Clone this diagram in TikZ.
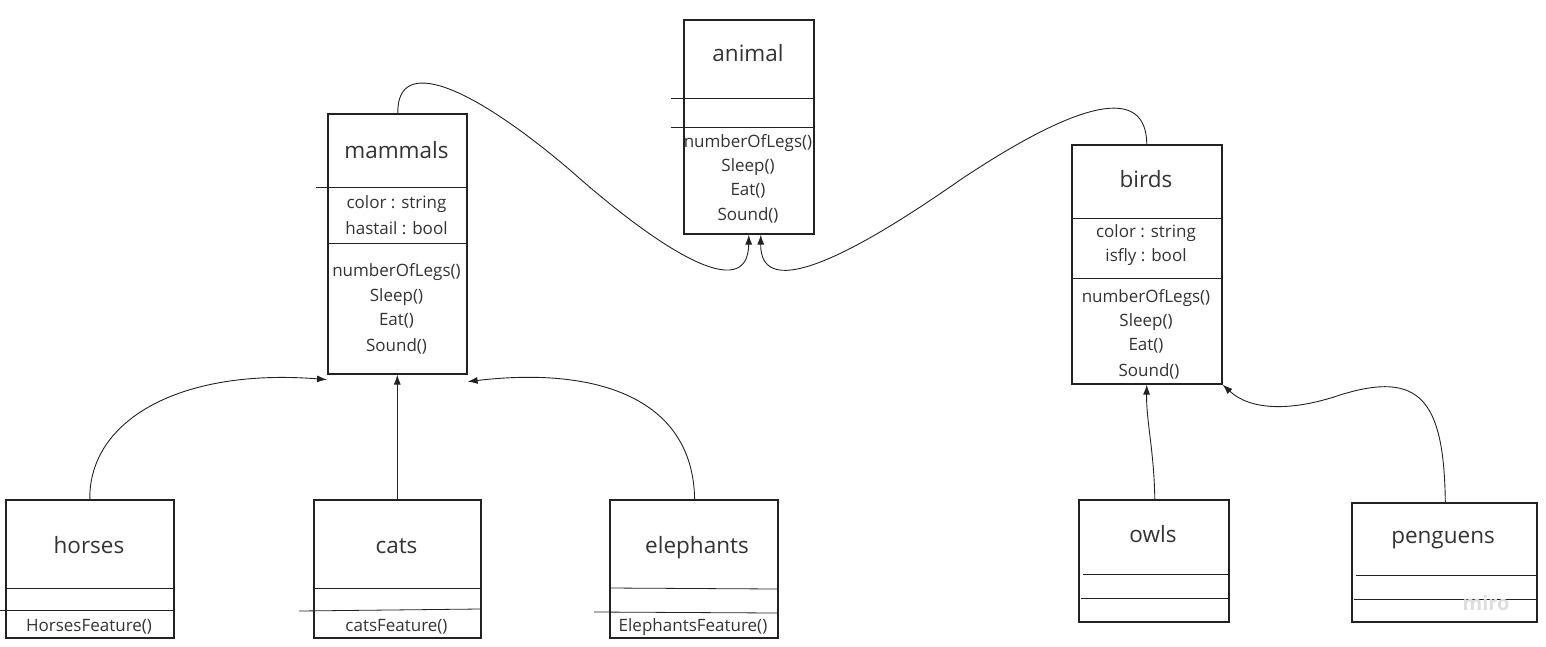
\documentclass[tikz,border=0pt]{standalone}
\usepackage{fontspec}
\setmainfont{Open Sans}
\usetikzlibrary{arrows.meta}
\definecolor{ink}{HTML}{222222}
\definecolor{txt}{HTML}{333333}
\definecolor{wm}{HTML}{DDDDDD}
\tikzset{
  cls/.style={draw=ink, line width=1.6pt, anchor=north west, inner sep=0pt},
  sep/.style={draw=ink, line width=0.8pt},
  ttl/.style={text=txt, font=\fontsize{22.5}{26}\selectfont, inner sep=0pt, anchor=base},
  mem/.style={text=txt, font=\fontsize{17}{20}\selectfont, inner sep=0pt},
  arr/.style={draw=ink, line width=0.9pt, -{Latex[length=10pt,width=7pt]}}
}
\begin{document}
\begin{tikzpicture}[x=1pt,y=-1pt]
\useasboundingbox (0,0) rectangle (1546,646);
% animal
\node[cls, minimum width=130pt, minimum height=214pt] (animal) at (683,19) {};
\draw[sep] (671,98) -- (813,98);
\draw[sep] (671,127) -- (813,127);
\node[ttl] (animalT) at (748,61) {animal};
\node[mem] (animalM1) at (748,143) {numberOfLegs()};
\node[mem] (animalM2) at (748,167) {Sleep()};
\node[mem] (animalM3) at (748,191) {Eat()};
\node[mem] (animalM4) at (748,215) {Sound()};
% mammals
\node[cls, minimum width=139pt, minimum height=260pt] (mammals) at (327,113) {};
\draw[sep] (316,187) -- (466,187);
\draw[sep] (327,243) -- (466,243);
\node[ttl] (mammalsT) at (396.5,158) {mammals};
\node[mem] (mammalsA1) at (396.5,204) {color : string};
\node[mem] (mammalsA2) at (396.5,228) {hastail : bool};
\node[mem] (mammalsM1) at (396.5,272) {numberOfLegs()};
\node[mem] (mammalsM2) at (396.5,297) {Sleep()};
\node[mem] (mammalsM3) at (396.5,321) {Eat()};
\node[mem] (mammalsM4) at (396.5,346) {Sound()};
% birds
\node[cls, minimum width=150pt, minimum height=239pt] (birds) at (1071,144) {};
\draw[sep] (1071,218) -- (1221,218);
\draw[sep] (1071,278) -- (1221,278);
\node[ttl] (birdsT) at (1146,187) {birds};
\node[mem] (birdsA1) at (1146,233) {color : string};
\node[mem] (birdsA2) at (1146,257) {isfly : bool};
\node[mem] (birdsM1) at (1146,298) {numberOfLegs()};
\node[mem] (birdsM2) at (1146,322) {Sleep()};
\node[mem] (birdsM3) at (1146,346) {Eat()};
\node[mem] (birdsM4) at (1149,371) {Sound()};
% horses
\node[cls, minimum width=168pt, minimum height=138pt] (horses) at (5,499) {};
\draw[sep] (5,588) -- (173,588);
\draw[sep] (0,610) -- (173,610);
\node[ttl] (horsesT) at (89,553) {horses};
\node[mem] (horsesM1) at (89,627) {HorsesFeature()};
% cats
\node[cls, minimum width=167pt, minimum height=138pt] (cats) at (313,499) {};
\draw[sep] (313,588) -- (480,588);
\draw[sep] (299,611) -- (480,609);
\node[ttl] (catsT) at (396.5,553) {cats};
\node[mem] (catsM1) at (396.5,627) {catsFeature()};
% elephants
\node[cls, minimum width=168pt, minimum height=138pt] (elephants) at (609,499) {};
\draw[sep] (609,588) -- (777,589);
\draw[sep] (594,612) -- (777,613);
\node[ttl] (elephantsT) at (697,553) {elephants};
\node[mem] (elephantsM1) at (693,627) {ElephantsFeature()};
% owls
\node[cls, minimum width=150pt, minimum height=122pt] (owls) at (1078,499) {};
\draw[sep] (1083,574) -- (1228,574);
\draw[sep] (1081,598) -- (1228,598);
\node[ttl] (owlsT) at (1153,542) {owls};
% penguens
\node[cls, minimum width=185pt, minimum height=119pt] (penguens) at (1351,502) {};
\draw[sep] (1356,575) -- (1536,575);
\draw[sep] (1354,599) -- (1536,599);
\node[ttl] (penguensT) at (1443,543) {penguens};
\node[text=wm, font=\bfseries\fontsize{20}{24}\selectfont, inner sep=0pt] (miro) at (1486,603) {miro};
% connectors
\draw[arr] ([xshift=0.5pt]mammals.north) .. controls (397,55) and (470,85) .. (570,170)
  .. controls (660,250) and (748,305) .. (animal.south);
\draw[arr] (birds.north) .. controls (1146,85) and (1080,100) .. (960,180)
  .. controls (860,250) and (760,305) .. ([xshift=12pt]animal.south);
\draw[arr] (horses.north) .. controls (89,420) and (180,368) .. ([yshift=-5pt]mammals.south west);
\draw[arr] (cats.north) -- (cats.north |- mammals.south);
\draw[arr] ([xshift=-84pt]elephants.north east) .. controls (693,400) and (600,366) .. ([yshift=-7pt]mammals.south east);
\draw[arr] ([xshift=1pt]owls.north) .. controls (1154,450) and (1146,420) .. (birds.south);
\draw[arr] ([xshift=1pt]penguens.north) .. controls (1444,400) and (1420,370) .. (1340,395)
  .. controls (1290,412) and (1250,410) .. (birds.south east);
\end{tikzpicture}
\end{document}
